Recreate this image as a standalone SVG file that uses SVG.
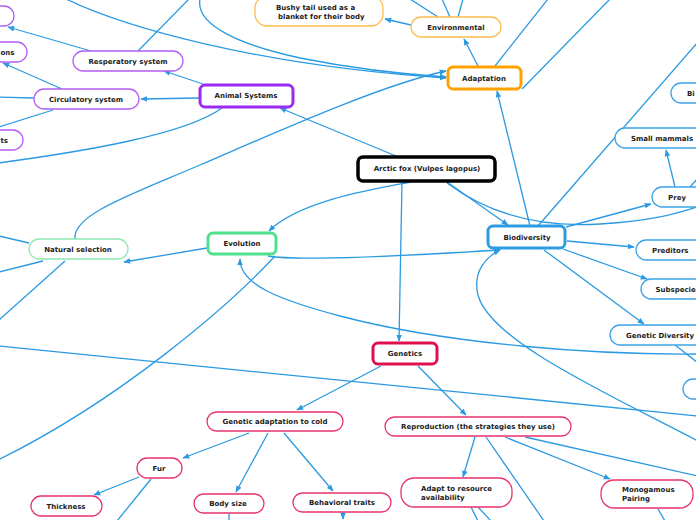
<svg xmlns="http://www.w3.org/2000/svg" width="696" height="520" viewBox="0 0 696 520">
<style>
.c{fill:none;stroke:#2b9ae2;stroke-width:1.3}
.a{marker-end:url(#ah)}
.t{font-family:"DejaVu Sans",Verdana,sans-serif;font-weight:bold;font-size:7px;fill:#1c1c1c;text-anchor:middle}
.l{text-anchor:start}
.e{text-anchor:end}
rect{fill:#fff}
.kB{stroke:#000;stroke-width:3.5}
.kO{stroke:#ffa200;stroke-width:3}
.kP{stroke:#9b2bf0;stroke-width:3}
.kG{stroke:#4fe08e;stroke-width:3}
.kU{stroke:#2d9be2;stroke-width:3}
.kR{stroke:#e0104f;stroke-width:3}
.tO{stroke:#ffbb4a;stroke-width:1.3}
.tP{stroke:#b35ef2;stroke-width:1.3}
.tG{stroke:#8fe8b2;stroke-width:1.3}
.tU{stroke:#3ba2e8;stroke-width:1.3}
.tR{stroke:#e8336b;stroke-width:1.3}
</style>
<defs>
<marker id="ah" viewBox="0 0 10 10" refX="9" refY="5" markerWidth="7" markerHeight="7" orient="auto" markerUnits="userSpaceOnUse">
<path d="M0,1 L10,5 L0,9 z" fill="#2b9ae2"/>
</marker>
</defs>
<g id="connectors">
<path class="c a" d="M447,182 L508,225"/>
<path class="c" d="M447,183 C490,215 540,228 600,224 S680,212 700,206"/>
<path class="c a" d="M411,182 C380,188 300,200 269,231"/>
<path class="c a" d="M402,182 L399,341"/>
<path class="c a" d="M396,156 L280,108"/>
<path class="c a" d="M530,226 L497,91"/>
<path class="c a" d="M478,66 L464,39"/>
<path class="c" d="M495,66 L548,-1"/>
<path class="c" d="M522,89 L610,-1"/>
<path class="c a" d="M75,239 C72,215 130,195 200,165 S380,85 446,71"/>
<path class="c a" d="M66,-1 C120,25 250,65 446,78"/>
<path class="c a" d="M200,-1 C195,25 240,45 300,58 C350,68 400,74 446,77"/>
<path class="c a" d="M411,25 L385,19"/>
<path class="c" d="M438,17 L410,-1"/>
<path class="c" d="M450,17 L442,-1"/>
<path class="c" d="M458,17 L463,-1"/>
<path class="c a" d="M203,84 L164,71"/>
<path class="c a" d="M199,98 L141,99"/>
<path class="c" d="M222,108 C185,135 80,152 -2,163"/>
<path class="c a" d="M91,51 L8,27"/>
<path class="c" d="M138,51 L189,-1"/>
<path class="c a" d="M62,89 L3,63"/>
<path class="c" d="M34,98 L-1,97"/>
<path class="c" d="M53,110 L-1,127"/>
<path class="c a" d="M207,248 L124,262"/>
<path class="c a" d="M268,256 C300,262 420,255 500,250"/>
<path class="c" d="M275,256 C230,305 120,400 -2,460"/>
<path class="c a" d="M698,354 C600,355 450,345 340,316 C280,300 240,285 240,259"/>
<path class="c" d="M29,243 L-1,236"/>
<path class="c" d="M43,261 L-1,272"/>
<path class="c" d="M65,261 L-1,320"/>
<path class="c" d="M538,226 L698,42"/>
<path class="c a" d="M566,227 L651,204"/>
<path class="c a" d="M567,241 L634,247"/>
<path class="c a" d="M563,249 L647,279"/>
<path class="c a" d="M544,250 L644,324"/>
<path class="c a" d="M698,441 C600,390 490,340 478,295 C472,270 488,256 500,250"/>
<path class="c a" d="M675,187 L666,150"/>
<path class="c" d="M690,187 L698,178"/>
<path class="c" d="M675,345 L698,363"/>
<path class="c" d="M-2,346 L698,416"/>
<path class="c a" d="M381,366 L297,410"/>
<path class="c a" d="M418,366 L466,415"/>
<path class="c a" d="M249,433 L183,458"/>
<path class="c a" d="M268,433 L236,492"/>
<path class="c a" d="M284,433 L333,491"/>
<path class="c a" d="M139,477 L94,495"/>
<path class="c" d="M151,479 L117,521"/>
<path class="c" d="M229,514 L229,521"/>
<path class="c a" d="M343,512 L343,519"/>
<path class="c a" d="M475,437 L463,477"/>
<path class="c" d="M486,437 L544,521"/>
<path class="c a" d="M505,437 L610,479"/>
<path class="c" d="M525,437 L698,476"/>
<path class="c" d="M471,507 L478,521"/>
<path class="c" d="M478,507 L491,521"/>
<path class="c" d="M658,509 L665,521"/>
</g>
<g id="arctic-fox"><rect class="kB" x="358" y="157" width="137" height="24" rx="5"/><text class="t" x="427" y="171">Arctic fox (Vulpes lagopus)</text></g>
<g id="adaptation"><rect class="kO" x="448" y="67" width="73" height="22" rx="5"/><text class="t" x="484" y="80.5">Adaptation</text></g>
<g id="environmental"><rect class="tO" x="411" y="17" width="90" height="20" rx="10"/><text class="t" x="456" y="29.5">Environmental</text></g>
<g id="bushy-tail"><rect class="tO" x="255" y="-4" width="128" height="30" rx="12"/><text class="t l" x="276" y="10">Bushy tail used as a</text><text class="t l" x="278" y="19">blanket for their body</text></g>
<g id="animal-systems"><rect class="kP" x="200" y="85" width="93" height="22" rx="5"/><text class="t" x="246" y="98">Animal Systems</text></g>
<g id="resperatory"><rect class="tP" x="73" y="51" width="110" height="20" rx="10"/><text class="t" x="128" y="63.5">Resperatory system</text></g>
<g id="circulatory"><rect class="tP" x="34" y="89" width="105" height="20" rx="10"/><text class="t" x="86" y="101.5">Circulatory system</text></g>
<g id="purple-top"><rect class="tP" x="-40" y="6" width="54" height="20" rx="10"/></g>
<g id="purple-ons"><rect class="tP" x="-40" y="42" width="67" height="20" rx="10"/><text class="t l" x="0.5" y="54.5">ons</text></g>
<g id="purple-ts"><rect class="tP" x="-40" y="130" width="63" height="20" rx="10"/><text class="t l" x="0.5" y="142.5">ts</text></g>
<g id="evolution"><rect class="kG" x="208" y="233" width="68" height="21" rx="5"/><text class="t" x="242" y="246">Evolution</text></g>
<g id="natural-selection"><rect class="tG" x="29" y="239" width="99" height="20" rx="10"/><text class="t" x="78" y="251.5">Natural selection</text></g>
<g id="biodiversity"><rect class="kU" x="488" y="226" width="77" height="22" rx="5"/><text class="t" x="527" y="239.5">Biodiversity</text></g>
<g id="small-mammals"><rect class="tU" x="615" y="128" width="100" height="20" rx="10"/><text class="t" x="662" y="140.5">Small mammals</text></g>
<g id="birds"><rect class="tU" x="671" y="83" width="60" height="20" rx="10"/><text class="t l" x="687" y="95.5">Bi</text></g>
<g id="prey"><rect class="tU" x="652" y="187" width="70" height="20" rx="10"/><text class="t" x="677" y="199.5">Prey</text></g>
<g id="preditors"><rect class="tU" x="636" y="240" width="80" height="20" rx="10"/><text class="t l" x="652" y="252.5">Preditors</text></g>
<g id="subspecies"><rect class="tU" x="641" y="279" width="80" height="20" rx="10"/><text class="t l" x="655.5" y="291.5">Subspecie</text></g>
<g id="genetic-diversity"><rect class="tU" x="610" y="325" width="100" height="20" rx="10"/><text class="t l" x="626" y="337.5">Genetic Diversity</text></g>
<g id="blue-bottom"><rect class="tU" x="683" y="379" width="60" height="20" rx="10"/></g>
<g id="genetics"><rect class="kR" x="373" y="343" width="64" height="21" rx="5"/><text class="t" x="405" y="356">Genetics</text></g>
<g id="genetic-adaptation"><rect class="tR" x="207" y="412" width="136" height="19" rx="9.5"/><text class="t" x="275" y="424">Genetic adaptation to cold</text></g>
<g id="reproduction"><rect class="tR" x="385" y="417" width="186" height="19" rx="9.5"/><text class="t" x="478" y="429">Reproduction (the strategies they use)</text></g>
<g id="fur"><rect class="tR" x="137" y="458" width="45" height="20" rx="10"/><text class="t" x="159" y="470.5">Fur</text></g>
<g id="thickness"><rect class="tR" x="31" y="496" width="71" height="20" rx="10"/><text class="t" x="66" y="508.5">Thickness</text></g>
<g id="body-size"><rect class="tR" x="194" y="494" width="70" height="19" rx="9.5"/><text class="t" x="228" y="506">Body size</text></g>
<g id="behavioral-traits"><rect class="tR" x="293" y="493" width="98" height="19" rx="9.5"/><text class="t" x="342" y="505">Behavioral traits</text></g>
<g id="adapt-resource"><rect class="tR" x="401" y="478" width="111" height="29" rx="13"/><text class="t l" x="421" y="490.5">Adapt to resource</text><text class="t l" x="421" y="499.5">availability</text></g>
<g id="monogamous"><rect class="tR" x="601" y="480" width="92" height="28" rx="13"/><text class="t l" x="622" y="491.5">Monogamous</text><text class="t l" x="622" y="500.5">Pairing</text></g>
</svg>
